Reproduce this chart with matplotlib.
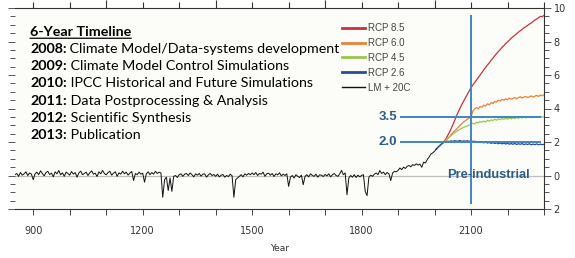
import numpy as np
import matplotlib.pyplot as plt
from matplotlib.ticker import MultipleLocator, FixedLocator

# ---- data ----
lm_years = list(range(850, 2006, 5))
lm_temp = [
    0.05, 0.12, -0.05, 0.18, 0.02, 0.10, 0.22, 0.00, 0.15, 0.08,
    -0.25, 0.10, 0.20, 0.05, 0.28, 0.12, -0.02, 0.18, 0.25, 0.06,
    0.14, -0.08, 0.22, 0.10, 0.30, 0.04, 0.16, -0.05, 0.20, 0.12,
    0.02, 0.24, 0.08, 0.18, -0.10, 0.15, 0.26, 0.05, 0.12, 0.20,
    0.00, 0.16, 0.28, 0.08, 0.14, -0.06, 0.22, 0.10, 0.30, 0.12,
    0.04, 0.18, 0.25, 0.02, 0.14, 0.22, -0.05, 0.16, 0.08, 0.26,
    0.10, 0.20, 0.02, 0.15, 0.24, -0.30, 0.12, 0.05, 0.20, 0.08,
    0.14, -0.40, 0.10, 0.22, 0.05, 0.18, 0.08, 0.25, 0.12, 0.20,
    0.15, -1.30, -0.25, -0.10, -0.90, -0.15, -0.95, -0.05, 0.00, -0.12,
    0.05, 0.10, -0.05, 0.08, 0.12, 0.00, 0.15, 0.05, -0.08, 0.10,
    0.02, 0.12, -0.04, 0.08, 0.10, -0.10, 0.04, 0.12, 0.00, 0.06,
    -0.05, 0.08, -0.08, 0.02, 0.06, -0.10, 0.00, -0.06, 0.08, -0.02,
    -1.30, -0.25, -0.15, -0.05, 0.05, -0.08, 0.10, 0.02, 0.12, 0.05,
    0.15, 0.05, 0.18, 0.00, 0.12, 0.08, 0.20, -0.05, 0.10, 0.14,
    0.02, 0.12, -0.06, 0.10, 0.04, 0.16, -0.02, 0.08, 0.00, 0.10,
    -0.65, -0.10, 0.00, -0.15, 0.05, -0.05, -0.12, 0.02, -0.55, -0.05,
    0.05, -0.08, 0.10, 0.00, -0.05, 0.08, -0.10, 0.04, 0.02, -0.06,
    0.06, -0.02, 0.10, -0.08, 0.04, 0.12, 0.00, -0.05, 0.10, 0.30,
    0.05, 0.15, -1.15, -0.15, 0.00, -0.10, 0.05, -0.12, 0.02, -0.08,
    0.00, 0.05, -0.96, -1.20, -0.10, 0.02, -0.05, 0.08, 0.15, 0.05,
    0.30, 0.12, 0.20, 0.05, 0.18, 0.10, -0.30, 0.15, 0.25, 0.22,
    0.30, 0.45, 0.35, 0.50, 0.42, 0.55, 0.60, 0.52, 0.65, 0.60,
    0.70, 0.62, 0.68, 0.49, 0.80, 0.75, 0.95, 1.10, 1.28, 1.35,
    1.45, 1.58,
]

rcp_years = list(range(2005, 2301, 5))
rcp85 = [
    1.58, 1.70, 1.80, 1.92, 2.02, 2.15, 2.35, 2.55, 2.78, 3.02,
    3.28, 3.55, 3.80, 4.02, 4.25, 4.45, 4.65, 4.85, 5.05, 5.25,
    5.40, 5.55, 5.70, 5.85, 6.00, 6.15, 6.32, 6.45, 6.60, 6.72,
    6.88, 7.00, 7.15, 7.28, 7.40, 7.52, 7.65, 7.75, 7.88, 7.98,
    8.08, 8.20, 8.28, 8.38, 8.46, 8.56, 8.64, 8.72, 8.82, 8.88,
    8.96, 9.04, 9.10, 9.20, 9.28, 9.35, 9.42, 9.50, 9.48, 9.56,
]
rcp60 = [
    1.58, 1.68, 1.78, 1.88, 1.98, 2.08, 2.20, 2.30, 2.42, 2.55,
    2.65, 2.76, 2.88, 3.00, 3.10, 3.20, 3.28, 3.36, 3.44, 3.50,
    3.85, 3.98, 4.05, 3.98, 4.12, 4.08, 4.20, 4.15, 4.28, 4.22,
    4.35, 4.30, 4.42, 4.38, 4.50, 4.45, 4.55, 4.50, 4.58, 4.52,
    4.62, 4.55, 4.60, 4.66, 4.58, 4.65, 4.70, 4.62, 4.68, 4.72,
    4.65, 4.70, 4.75, 4.68, 4.74, 4.78, 4.72, 4.80, 4.76, 4.82,
]
rcp45 = [
    1.58, 1.68, 1.78, 1.88, 1.98, 2.08, 2.18, 2.28, 2.38, 2.46,
    2.55, 2.62, 2.70, 2.76, 2.82, 2.88, 2.92, 2.96, 3.00, 3.02,
    3.12, 3.08, 3.18, 3.14, 3.22, 3.18, 3.25, 3.20, 3.30, 3.24,
    3.32, 3.28, 3.36, 3.30, 3.38, 3.34, 3.40, 3.35, 3.42, 3.36,
    3.44, 3.38, 3.45, 3.40, 3.47, 3.42, 3.48, 3.43, 3.50, 3.44,
    3.48, 3.52, 3.45, 3.50, 3.46, 3.52, 3.48, 3.54, 3.47, 3.52,
]
rcp26 = [
    1.58, 1.70, 1.80, 1.90, 1.98, 2.02, 2.05, 2.03, 2.07, 2.04,
    2.08, 2.05, 2.06, 2.09, 2.04, 2.07, 2.05, 2.08, 2.03, 2.10,
    2.02, 2.05, 1.98, 2.03, 1.97, 2.00, 1.95, 1.99, 1.94, 1.97,
    1.92, 1.96, 1.91, 1.95, 1.90, 1.94, 1.89, 1.93, 1.88, 1.92,
    1.87, 1.91, 1.86, 1.92, 1.85, 1.90, 1.86, 1.91, 1.84, 1.89,
    1.85, 1.90, 1.83, 1.88, 1.84, 1.89, 1.83, 1.87, 1.84, 1.86,
]

series_labels = ["RCP 8.5", "RCP 6.0", "RCP 4.5", "RCP 2.6", "LM + 20C"]
series_colors = ["#c8323c", "#ee8035", "#9cc650", "#2a4c98", "#111111"]

ytick_vals = [-2, 0, 2, 4, 6, 8, 10]
ytick_labels = ["2", "0", "2", "4", "6", "8", "10"]
xtick_vals = [900, 1200, 1500, 1800, 2100]

preind_year = 2100
targets = [3.5, 2.0]
target_labels = ["3.5", "2.0"]

timeline_head = "6-Year Timeline"
timeline_years = ["2008:", "2009:", "2010:", "2011:", "2012:", "2013:"]
timeline_items = [
    "Climate Model/Data-systems development",
    "Climate Model Control Simulations",
    "IPCC Historical and Future Simulations",
    "Data Postprocessing & Analysis",
    "Scientific Synthesis",
    "Publication",
]

# ---- figure ----
W, H = 575, 258
fig = plt.figure(figsize=(W / 100, H / 100), dpi=100)
ax = fig.add_axes([15 / W, (H - 209) / H, (544 - 15) / W, (209 - 8) / H])
ax.set_facecolor("#fcfcf9")
ax.set_xlim(850, 2300)
ax.set_ylim(-2, 10)

ax.axhline(0, color="#bdbdbd", lw=0.9, zorder=1)

l85, = ax.plot(rcp_years, rcp85, color=series_colors[0], lw=0.9, zorder=3)
l60, = ax.plot(rcp_years, rcp60, color=series_colors[1], lw=0.9, zorder=3)
l45, = ax.plot(rcp_years, rcp45, color=series_colors[2], lw=0.9, zorder=3)
l26, = ax.plot(rcp_years, rcp26, color=series_colors[3], lw=0.9, zorder=3)
llm, = ax.plot(lm_years, lm_temp, color=series_colors[4], lw=0.7, zorder=3)

# reference lines
line_blue = "#3f86c4"
text_blue = "#2c5b8c"
ax.vlines(preind_year, -1.7, 9.6, color=line_blue, lw=1.4, zorder=4)
for lev, lab in zip(targets, target_labels):
    ax.hlines(lev, 1905, 2292, color=line_blue, lw=1.4, zorder=4)
    ax.text(1897, lev, lab, color=text_blue, fontsize=9.5, fontweight="bold",
            ha="right", va="center", family="Liberation Sans")
ax.text(2148, 0.05, "Pre-industrial", color=text_blue, fontsize=9.3,
        fontweight="bold", ha="center", va="center", family="Liberation Sans",
        zorder=5)

# legend
leg = ax.legend([l85, l60, l45, l26, llm], series_labels, loc="upper left",
                bbox_to_anchor=(0.618, 0.925), frameon=False,
                handlelength=2.4, handletextpad=0.25, labelspacing=0.5,
                borderpad=0, borderaxespad=0,
                prop={"family": "Liberation Sans", "size": 7})
for t in leg.get_texts():
    t.set_color("#444444")
for hl in leg.get_lines()[:4]:
    hl.set_linewidth(2.0)
leg.get_lines()[4].set_linewidth(1.0)

# spines and ticks
ax.spines["left"].set_visible(False)
for s in ["top", "bottom", "right"]:
    ax.spines[s].set_color("#333333")
    ax.spines[s].set_linewidth(0.8)

ax.xaxis.set_major_locator(FixedLocator(xtick_vals))
ax.xaxis.set_minor_locator(MultipleLocator(100))
ax.yaxis.set_major_locator(FixedLocator(ytick_vals))
ax.set_yticklabels(ytick_labels)
ax.yaxis.set_minor_locator(MultipleLocator(0.5))
ax.tick_params(axis="y", which="both", left=True, right=True, labelleft=False,
               labelright=True, direction="out", color="#555555", width=0.7,
               labelsize=7, labelcolor="#333333", pad=2)
ax.tick_params(axis="y", which="major", length=5)
ax.tick_params(axis="y", which="minor", length=3.5)
ax.tick_params(axis="x", which="both", direction="out", color="#444444",
               width=0.7, length=4, labelsize=7, labelcolor="#333333", pad=8)
for lbl in ax.get_xticklabels() + ax.get_yticklabels():
    lbl.set_family("DejaVu Sans")

top = ax.secondary_xaxis("top")
top.set_xticks([1100, 1400, 1700, 2000])
top.xaxis.set_minor_locator(MultipleLocator(100))
top.tick_params(which="major", length=6, width=0.8, color="#333333", labeltop=False)
top.tick_params(which="minor", length=4, width=0.8, color="#333333")
top.spines["top"].set_visible(False)

ax.set_xlabel("Year", fontsize=6.5, color="#333333", labelpad=6)

# timeline text
tx = 30 / W
fs = 10.3
head = fig.text(tx, 1 - 32 / H, timeline_head, fontsize=fs, fontweight="bold",
                family="Lato", va="center")
ax.annotate("", xy=(0, -0.02), xycoords=head, xytext=(1, -0.02), textcoords=head,
            arrowprops=dict(arrowstyle="-", lw=0.9, color="black",
                            shrinkA=0, shrinkB=0))
for i, (yr, item) in enumerate(zip(timeline_years, timeline_items)):
    yp = 49 + 17.2 * i
    b = fig.text(tx, 1 - yp / H, yr, fontsize=fs, fontweight="bold",
                 family="Lato", va="center")
    ax.annotate(" " + item, xy=(1, 0), xycoords=b, va="bottom", ha="left",
                fontsize=fs, family="Lato", annotation_clip=False)

fig.savefig("out.png", dpi=100)
